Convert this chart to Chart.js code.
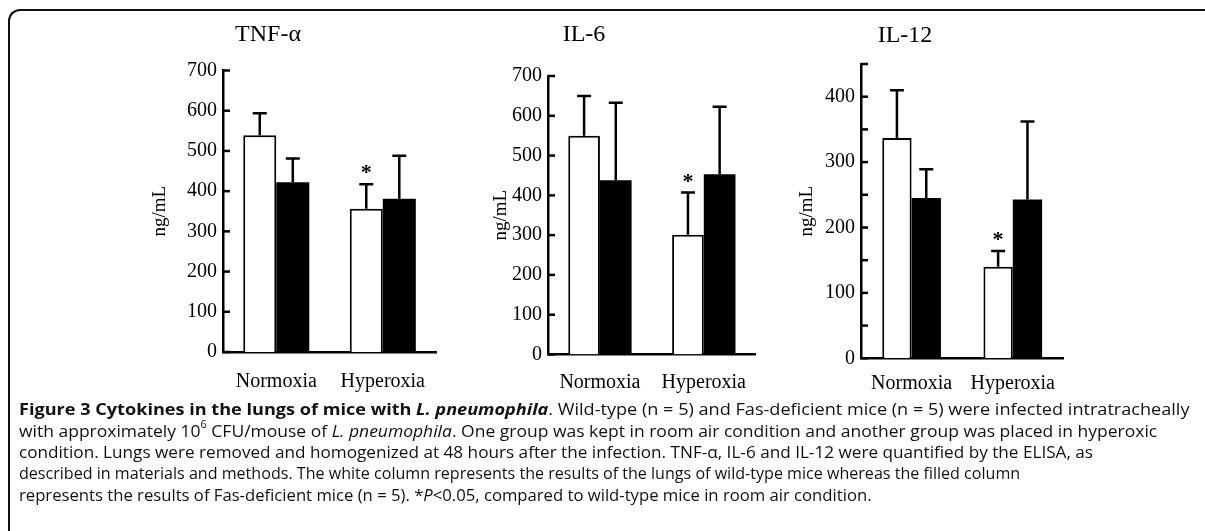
<!DOCTYPE html>
<html><head><meta charset="utf-8">
<script src="https://cdn.jsdelivr.net/npm/chart.js@4.4.0/dist/chart.umd.min.js"></script>
<style>
html,body{margin:0;padding:0;background:#fff;width:1205px;height:531px;overflow:hidden;position:relative;}
.frame{position:absolute;left:8px;top:9px;width:1400px;height:700px;border-top:2px solid #111;border-left:2px solid #111;border-top-left-radius:12px;box-sizing:border-box;}
.cv{position:absolute;top:0;}
.cap{position:absolute;left:19px;font-family:'Open Sans',sans-serif;font-size:16px;color:#111;white-space:nowrap;transform-origin:0 50%;line-height:20px;}
.cap span{display:inline-block;}
.cap sup{font-size:10px;vertical-align:top;line-height:10px;position:relative;top:-2px;}
</style></head><body>
<div class="frame"></div>
<canvas id="c1" class="cv" width="350" height="400" style="left:93px"></canvas>
<canvas id="c2" class="cv" width="356" height="400" style="left:406px"></canvas>
<canvas id="c3" class="cv" width="326" height="400" style="left:742px"></canvas>

<div class="cap" style="top:399px"><span><b>Figure 3 Cytokines in the lungs of mice with <i>L. pneumophila</i></b>. Wild-type (n = 5) and Fas-deficient mice (n = 5) were infected intratracheally</span></div>
<div class="cap" style="top:421px"><span>with approximately 10<sup>6</sup> CFU/mouse of <i>L. pneumophila</i>. One group was kept in room air condition and another group was placed in hyperoxic</span></div>
<div class="cap" style="top:442px"><span>condition. Lungs were removed and homogenized at 48 hours after the infection. TNF-α, IL-6 and IL-12 were quantified by the ELISA, as</span></div>
<div class="cap" style="top:463px"><span>described in materials and methods. The white column represents the results of the lungs of wild-type mice whereas the filled column</span></div>
<div class="cap" style="top:485px"><span>represents the results of Fas-deficient mice (n = 5). *<i>P</i>&lt;0.05, compared to wild-type mice in room air condition.</span></div>

<script>
// ---- data ----
const categories = ['Normoxia', 'Hyperoxia'];
const panelTitles = ['TNF-α', 'IL-6', 'IL-12'];
const yAxisTitle = 'ng/mL';

const tnfWild = [539, 356];
const tnfWildErr = [55, 61];
const tnfFas = [422, 381];
const tnfFasErr = [59, 107];

const il6Wild = [550, 301];
const il6WildErr = [100, 106];
const il6Fas = [438, 453];
const il6FasErr = [195, 170];

const il12Wild = [337, 140];
const il12WildErr = [73, 24];
const il12Fas = [245, 243];
const il12FasErr = [44, 119];

const wildSig = ['', '*'];
const fasSig = ['', ''];

const tnfTicks = [0, 100, 200, 300, 400, 500, 600, 700];
const il6Ticks = [0, 100, 200, 300, 400, 500, 600, 700];
const il12Ticks = [0, 50, 100, 150, 200, 250, 300, 350, 400, 450];
const il12Labeled = [0, 100, 200, 300, 400];

// ---- plugins ----
const SERIF = "'Liberation Serif', 'Times New Roman', serif";

const errorBarPlugin = {
  id: 'errorBars',
  afterDatasetsDraw(chart) {
    const ctx = chart.ctx;
    const ys = chart.scales.y;
    ctx.save();
    chart.data.datasets.forEach((ds, di) => {
      const meta = chart.getDatasetMeta(di);
      meta.data.forEach((bar, i) => {
        const v = ds.data[i], e = ds.errors[i];
        const yTop = ys.getPixelForValue(v + e);
        ctx.strokeStyle = '#000';
        ctx.lineWidth = 2.5;
        ctx.beginPath();
        ctx.moveTo(bar.x, bar.y);
        ctx.lineTo(bar.x, yTop);
        ctx.moveTo(bar.x - 7, yTop);
        ctx.lineTo(bar.x + 7, yTop);
        ctx.stroke();
        const s = ds.sig[i];
        if (s) {
          ctx.fillStyle = '#000';
          ctx.font = 'bold 22px ' + SERIF;
          ctx.textAlign = 'center';
          ctx.textBaseline = 'alphabetic';
          ctx.fillText(s, bar.x, yTop - 5);
        }
      });
    });
    ctx.restore();
  }
};

const inwardTicks = {
  id: 'inwardTicks',
  afterDraw(chart) {
    const ys = chart.scales.y;
    const ctx = chart.ctx;
    const x0 = chart.chartArea.left;
    ctx.save();
    ctx.strokeStyle = '#000';
    ctx.lineWidth = 2.5;
    ys.ticks.forEach((t, i) => {
      const y = ys.getPixelForTick(i);
      ctx.beginPath();
      ctx.moveTo(x0, y);
      ctx.lineTo(x0 + 7, y);
      ctx.stroke();
    });
    ctx.restore();
  }
};

function makeChart(id, cfg) {
  return new Chart(document.getElementById(id), {
    type: 'bar',
    data: {
      labels: categories,
      datasets: [
        { data: cfg.wild, errors: cfg.wildErr, sig: wildSig, backgroundColor: '#fff', borderColor: '#000', borderWidth: 2, borderSkipped: 'bottom' },
        { data: cfg.fas, errors: cfg.fasErr, sig: fasSig, backgroundColor: '#000', borderColor: '#000', borderWidth: 0 }
      ]
    },
    options: {
      responsive: false,
      animation: false,
      events: [],
      layout: { padding: { left: 0, right: 0, top: 0, bottom: cfg.padBottom } },
      datasets: { bar: { categoryPercentage: cfg.catPct, barPercentage: 1 } },
      plugins: {
        legend: { display: false },
        tooltip: { enabled: false },
        title: {
          display: true, text: cfg.title, color: '#000',
          font: { family: SERIF, size: 24, weight: 'normal' },
          padding: { top: cfg.titleTop, bottom: cfg.titleBottom }
        }
      },
      scales: {
        x: {
          offset: true,
          grid: { display: false, drawTicks: false },
          border: { display: true, color: '#000', width: 2.5 },
          ticks: { color: '#000', font: { family: SERIF, size: 20 }, padding: cfg.xPad, maxRotation: 0 },
          afterFit: s => { s.height = 40; }
        },
        y: {
          min: 0, max: cfg.max,
          afterBuildTicks: s => { s.ticks = cfg.ticks.map(v => ({ value: v })); },
          grid: { display: false, drawTicks: false },
          border: { display: true, color: '#000', width: 2.5 },
          ticks: {
            color: '#000', font: { family: SERIF, size: 20 }, padding: 6,
            callback: v => cfg.labeled.includes(v) ? String(v) : ''
          },
          title: {
            display: true, text: yAxisTitle, color: '#000',
            font: { family: SERIF, size: 19 },
            padding: { top: cfg.yTitlePad, bottom: 0 }
          },
          afterFit: s => { s.width = cfg.yWidth; }
        }
      }
    },
    plugins: [errorBarPlugin, inwardTicks]
  });
}

makeChart('c1', { title: panelTitles[0], wild: tnfWild, wildErr: tnfWildErr, fas: tnfFas, fasErr: tnfFasErr,
  max: 700, ticks: tnfTicks, labeled: tnfTicks, catPct: 0.62, yWidth: 130, yTitlePad: 55.6,
  titleTop: 20.6, titleBottom: 21.1, padBottom: 8, xPad: 18 });
makeChart('c2', { title: panelTitles[1], wild: il6Wild, wildErr: il6WildErr, fas: il6Fas, fasErr: il6FasErr,
  max: 700, ticks: il6Ticks, labeled: il6Ticks, catPct: 0.61, yWidth: 142, yTitlePad: 84,
  titleTop: 20.6, titleBottom: 26.6, padBottom: 5.5, xPad: 16 });
makeChart('c3', { title: panelTitles[2], wild: il12Wild, wildErr: il12WildErr, fas: il12Fas, fasErr: il12FasErr,
  max: 450, ticks: il12Ticks, labeled: il12Labeled, catPct: 0.58, yWidth: 119, yTitlePad: 53.6,
  titleTop: 21.6, titleBottom: 13.6, padBottom: 1.7, xPad: 13 });

// caption line fitting
const capTargets = [1171, 1138, 1074, 1001, 853];
function fitCaps() {
  document.querySelectorAll('.cap').forEach((d, i) => {
    const w = d.firstElementChild.offsetWidth;
    d.style.transform = 'scaleX(' + (capTargets[i] / w) + ')';
  });
}
fitCaps();
if (document.fonts && document.fonts.ready) document.fonts.ready.then(fitCaps);
</script>
</body></html>
